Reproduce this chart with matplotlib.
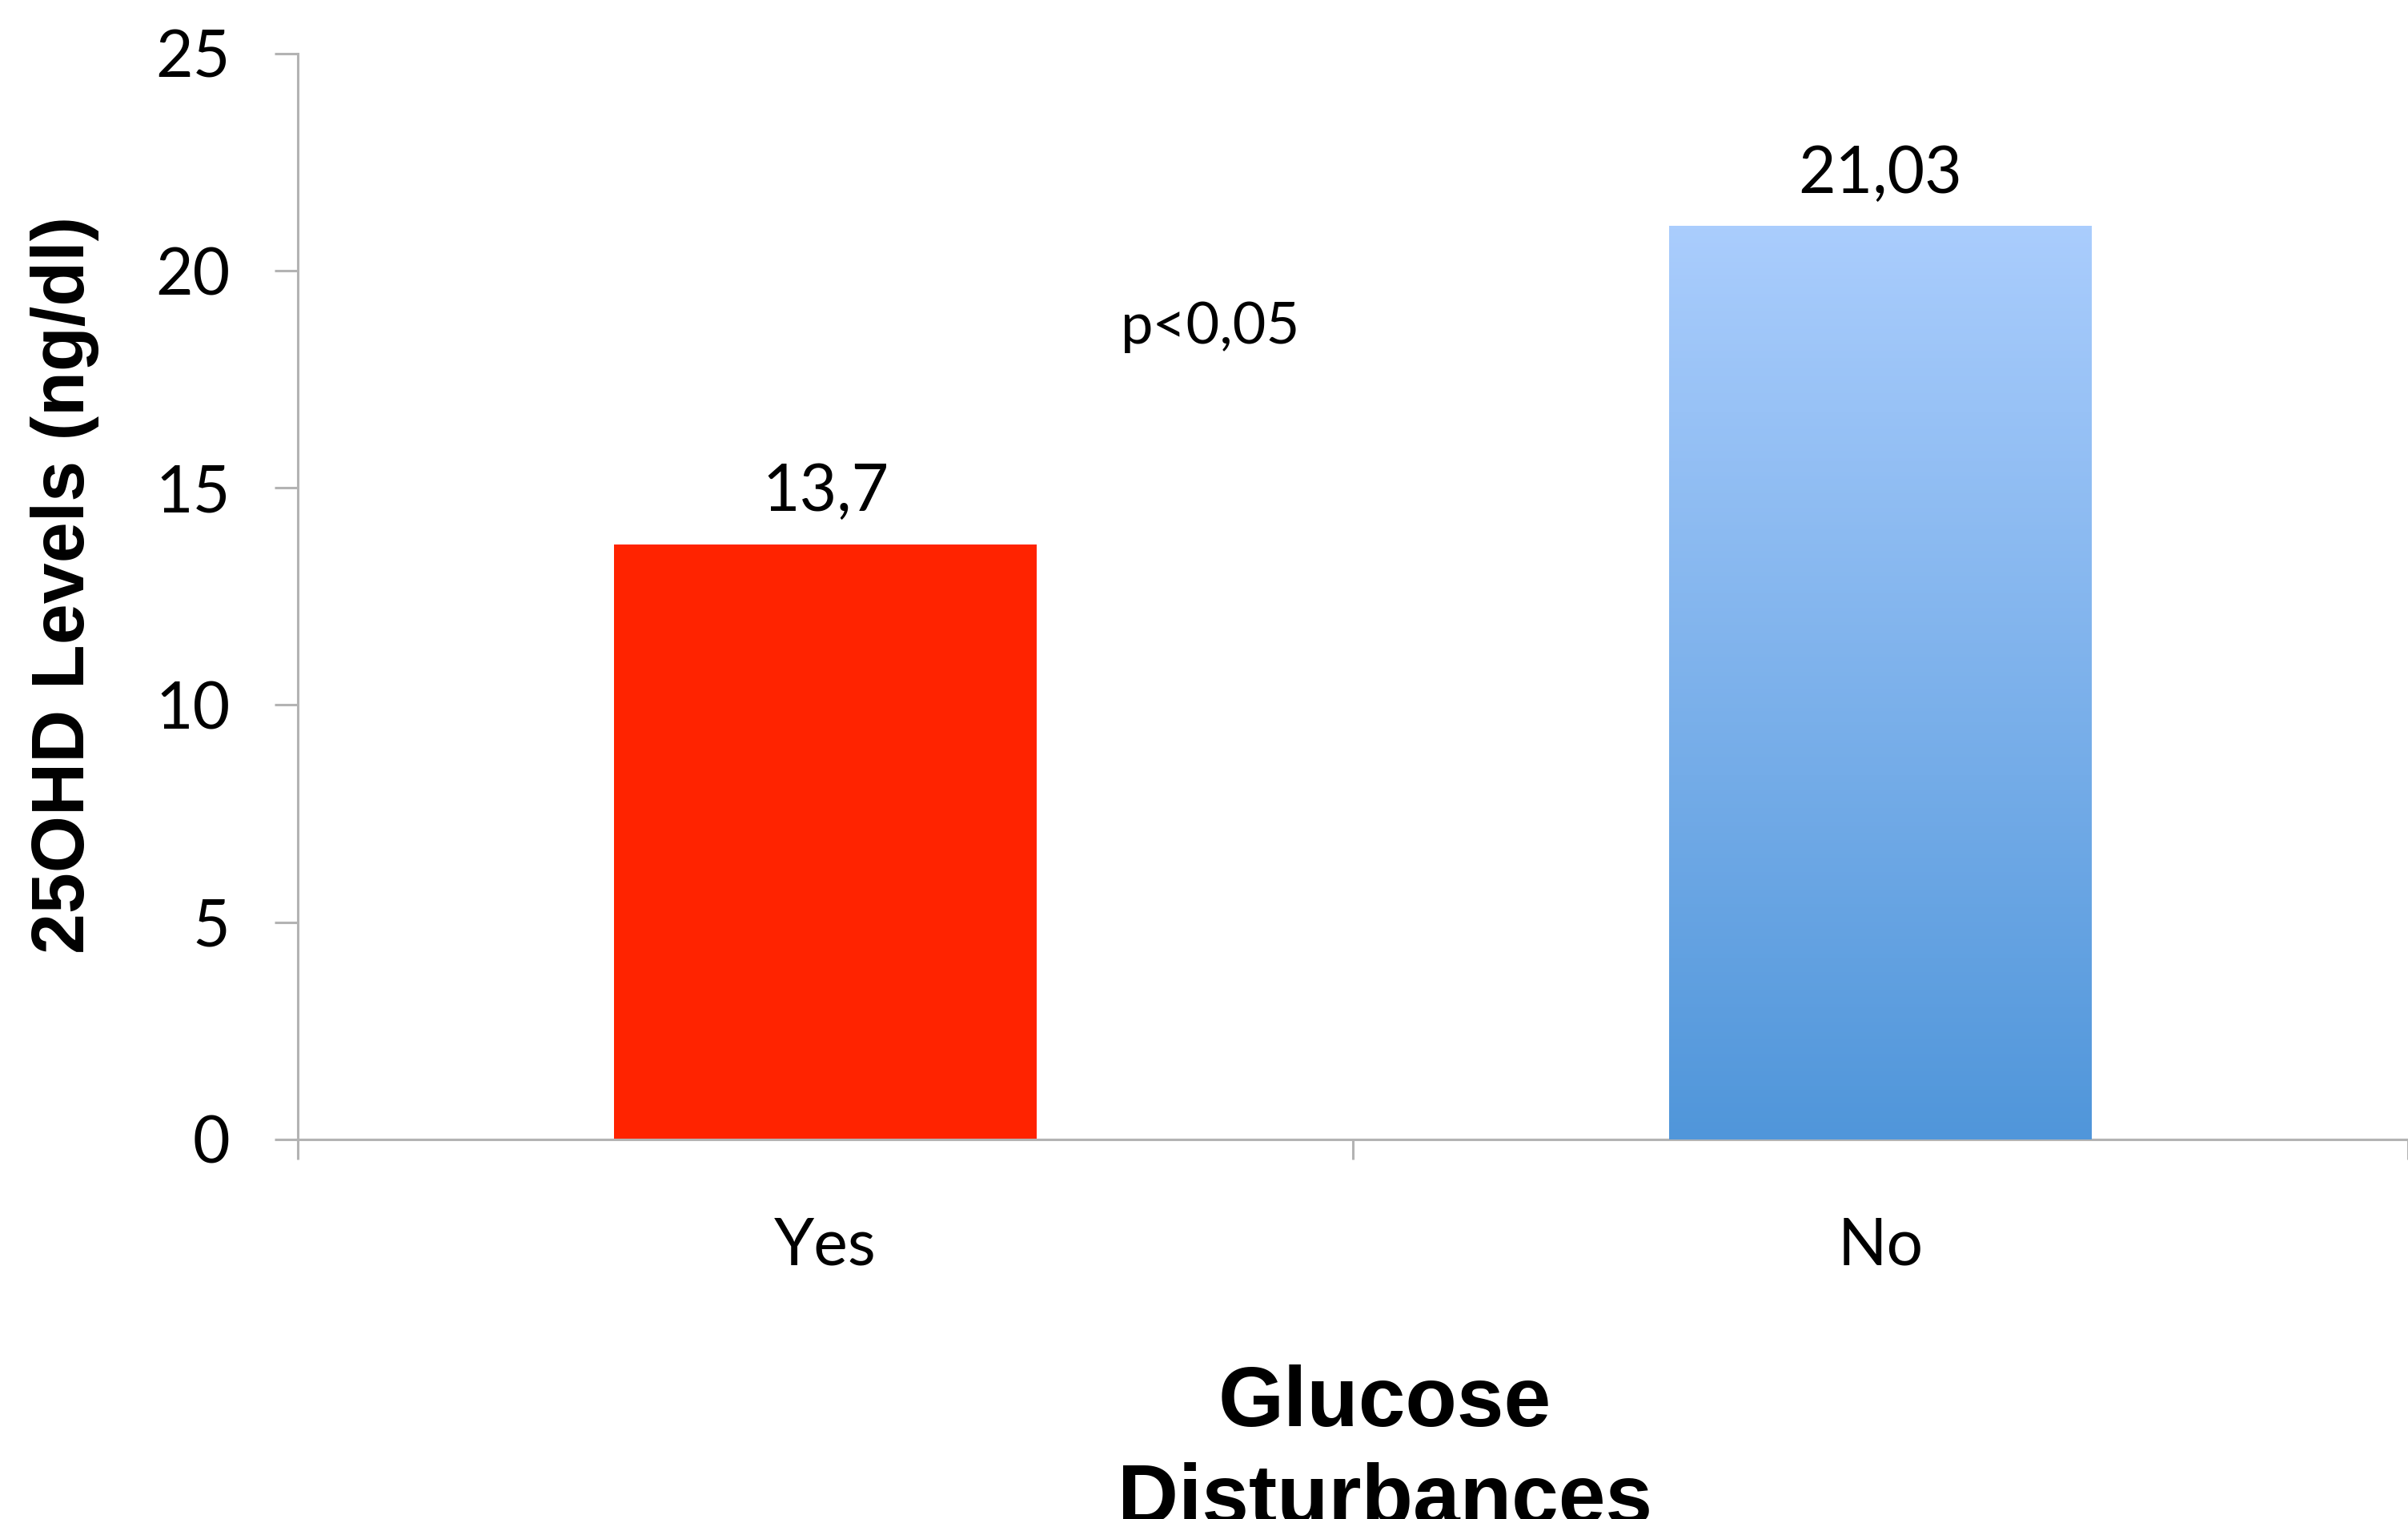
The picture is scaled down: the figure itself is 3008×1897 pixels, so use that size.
import numpy as np
import matplotlib
matplotlib.use("Agg")
import matplotlib.pyplot as plt
from matplotlib.colors import LinearSegmentedColormap

# data
categories = ["Yes", "No"]
values = [13.7, 21.03]
value_labels = ["13,7", "21,03"]
yticks = [0, 5, 10, 15, 20, 25]
p_text = "p<0,05"

red = "#ff2300"
blue_top = "#aacdfd"
blue_bottom = "#5096da"
spine_col = "#b3b3b3"
tick_font = "Lato"
label_font = "Liberation Sans"

fig = plt.figure(figsize=(30.08, 18.97), dpi=100)
ax = fig.add_axes([0.1237, 0.250, 0.8763, 0.7147])

x = np.arange(len(categories))
bars = ax.bar(x, values, width=0.4, color=[red, blue_top], edgecolor="none", zorder=2)

# gradient for the second bar
cmap = LinearSegmentedColormap.from_list("blu", [blue_bottom, blue_top])
b = bars[1]
grad = np.linspace(0, 1, 256).reshape(-1, 1)
im = ax.imshow(grad, cmap=cmap, origin="lower", aspect="auto",
               extent=[b.get_x(), b.get_x() + b.get_width(), 0, b.get_height()], zorder=3)
im.set_clip_path(b)
ax.set_xlim(-0.5, 1.483)
ax.set_ylim(0, 25)

# value labels
for xi, v, lab in zip(x, values, value_labels):
    ax.annotate(lab, (xi, v), xytext=(0, 30), textcoords="offset points",
                ha="center", va="baseline", fontsize=58, family=tick_font)

ax.text(0.365, 18.7, p_text, ha="center", va="center", fontsize=52, family=tick_font)

# spines
for s in ["top", "right"]:
    ax.spines[s].set_visible(False)
for s in ["left", "bottom"]:
    ax.spines[s].set_color(spine_col)
    ax.spines[s].set_linewidth(2.2)

ax.set_yticks(yticks)
ax.set_yticklabels([str(t) for t in yticks], family=tick_font, fontsize=58)
ax.tick_params(axis="y", length=21, width=2.2, color=spine_col, pad=40)

# category boundaries as major ticks, names as minor ticks
ax.set_xticks([-0.5, 0.5, 1.5])
ax.set_xticklabels([])
ax.tick_params(axis="x", which="major", length=18, width=2.2, color=spine_col)
ax.set_xticks(x, minor=True)
ax.set_xticklabels(categories, minor=True, family=tick_font, fontsize=58)
ax.tick_params(axis="x", which="minor", length=0, pad=70)

ax.set_ylabel("25OHD Levels (ng/dl)", family=label_font, fontweight="bold", fontsize=66)
ax.yaxis.set_label_coords(-0.094, 0.511)

fig.text(0.575, 0.102, "Glucose\nDisturbances", ha="center", va="top",
         family=label_font, fontweight="bold", fontsize=76, linespacing=1.3)

fig.savefig("out.png", dpi=100, facecolor="white")
